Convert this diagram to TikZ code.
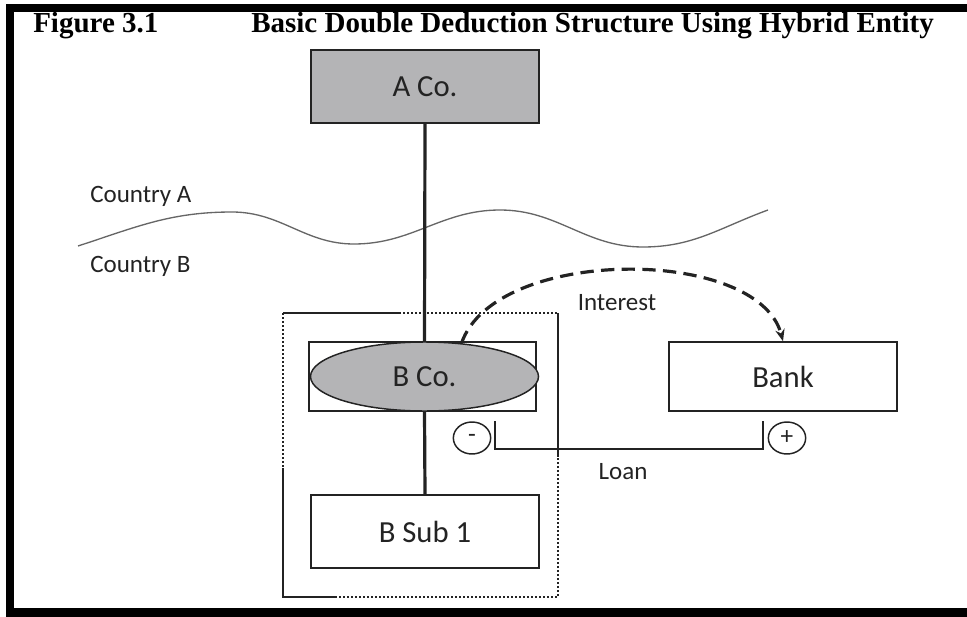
\documentclass[tikz,border=0pt]{standalone}
\usepackage{fontspec}
\setmainfont{Carlito}
\newfontfamily\titlefont{Liberation Serif}
\usetikzlibrary{arrows.meta, positioning, shapes.geometric}
\definecolor{boxgray}{RGB}{180,180,182}
\definecolor{inkgray}{RGB}{35,35,35}

\begin{document}
\begin{tikzpicture}[
    x=0.75pt, y=0.75pt,
    entity/.style={rectangle, draw=inkgray, line width=1.1pt, minimum width=171pt, minimum height=54.75pt, inner sep=0pt, text=inkgray, font=\fontsize{23}{27}\selectfont},
    hybrid/.style={ellipse, draw=inkgray, fill=boxgray, line width=1.1pt, minimum width=171pt, minimum height=51.75pt, inner sep=0pt, text=inkgray, font=\fontsize{23}{27}\selectfont},
    sign/.style={ellipse, draw=inkgray, line width=1.1pt, minimum width=28pt, minimum height=24pt, inner sep=0pt, text=inkgray, font=\fontsize{19}{22}\selectfont},
    txt/.style={inner sep=0pt, text=inkgray, font=\fontsize{18.75}{22}\selectfont},
    heading/.style={anchor=base west, inner sep=0pt, font=\titlefont\bfseries\fontsize{21.75}{26}\selectfont},
    own/.style={line width=2.4pt, draw=inkgray},
    loan/.style={line width=1.7pt, draw=inkgray},
    flow/.style={-{Stealth[length=9pt, width=7pt]}, line width=2.4pt, draw=inkgray, dash pattern=on 10pt off 5.5pt},
    group/.style={line width=0.8pt, draw=inkgray},
    border/.style={line width=1pt, draw=gray!80!black}
]
    \useasboundingbox (0,0) rectangle (967,-617);

    % frame
    \fill (6,-4) rectangle (967,-12);
    \fill (6,-4) rectangle (14,-617);
    \fill (6,-608) rectangle (967,-617);

    \node[heading] (fig) at (33,-33) {Figure 3.1};
    \node[heading] (title) at (251,-33) {Basic Double Deduction Structure Using Hybrid Entity};

    % countries
    \draw[border] (78,-246) to[out=18,in=180] (232,-212) to[out=0,in=180] (354,-244)
        to[out=0,in=180] (500,-210) to[out=0,in=180] (643,-247) to[out=0,in=200] (768,-210);
    \node[txt, anchor=base west] (ctya) at (90,-202) {Country A};
    \node[txt, anchor=base west] (ctyb) at (90,-272) {Country B};

    % group box
    \draw[group, dash pattern=on 1.5pt off 1.5pt] (283,-313) rectangle (558,-597);
    \draw[group] (400,-313) -- (283,-313);
    \draw[group] (558,-313) -- (558,-457);
    \draw[group] (283,-468) -- (283,-597) -- (337,-597);

    \node[entity, fill=boxgray] (aco) at (425,-86.5) {A Co.};
    \node[entity, minimum width=170.25pt, minimum height=51.75pt] (bcobox) at (422.5,-376.5) {};
    \node[hybrid] (bco) at (424.5,-376.5) {B Co.};
    \node[entity] (bsub) at (425,-531.5) {B Sub 1};
    \node[entity, minimum height=51.75pt] (bank) at (783,-376.5) {Bank};
    \node[sign] (minus) at (472,-438) {-};
    \node[sign] (plus) at (787,-438) {+};

    \draw[own] (aco.south) -- (bco.north);
    \draw[own] (bco.south) -- (bsub.north);

    % loan
    \coordinate (lend) at (495,-421);
    \coordinate (lret) at (763,-421);
    \draw[loan] (lend) -- ++(0,-28) -| (lret);
    \node[txt] (loantxt) at (623,-472) {Loan};

    % interest
    \draw[flow] (bco.42) .. controls (495,-246) and (758,-246) .. (bank.north);
    \node[txt] (inttxt) at (617,-303) {Interest};
\end{tikzpicture}
\end{document}
